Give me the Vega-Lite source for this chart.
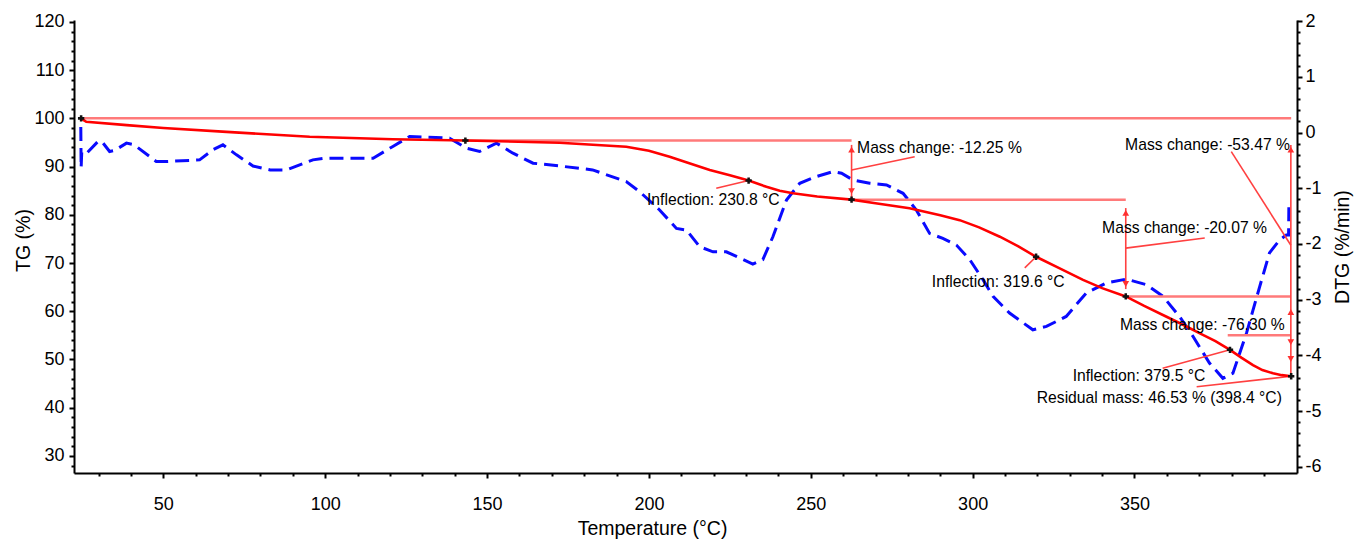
{
  "$schema": "https://vega.github.io/schema/vega-lite/v6.json",
  "width": 1223,
  "height": 453,
  "autosize": "none",
  "padding": {"left": 74, "top": 20, "right": 57, "bottom": 66},
  "background": "white",
  "config": {
    "view": {"stroke": null},
    "axis": {
      "grid": false,
      "domainColor": "black",
      "domainWidth": 2,
      "tickColor": "black",
      "tickWidth": 2,
      "labelFont": "Liberation Sans",
      "labelFontSize": 18,
      "labelColor": "black",
      "titleFont": "Liberation Sans",
      "titleFontSize": 19.5,
      "titleFontWeight": "normal",
      "titleColor": "black",
      "labelFlush": false,
      "labelOverlap": false
    }
  },
  "datasets": {
    "dtg": [
      {"t": 24.5, "dtg": 0.10}, {"t": 24.6, "dtg": -0.63}, {"t": 24.8, "dtg": -0.34}, {"t": 26.5, "dtg": -0.36},
      {"t": 29.8, "dtg": -0.16}, {"t": 31.0, "dtg": -0.16}, {"t": 33.4, "dtg": -0.34}, {"t": 35.0, "dtg": -0.32},
      {"t": 38.6, "dtg": -0.19}, {"t": 41.0, "dtg": -0.22}, {"t": 47.8, "dtg": -0.52}, {"t": 51.0, "dtg": -0.52},
      {"t": 61.2, "dtg": -0.49}, {"t": 65.3, "dtg": -0.31}, {"t": 68.4, "dtg": -0.22}, {"t": 72.6, "dtg": -0.40},
      {"t": 77.7, "dtg": -0.60}, {"t": 83.0, "dtg": -0.67}, {"t": 88.0, "dtg": -0.67}, {"t": 96.2, "dtg": -0.49},
      {"t": 100.0, "dtg": -0.46}, {"t": 114.8, "dtg": -0.46}, {"t": 120.9, "dtg": -0.25}, {"t": 126.1, "dtg": -0.07},
      {"t": 138.4, "dtg": -0.10}, {"t": 143.6, "dtg": -0.28}, {"t": 147.7, "dtg": -0.34}, {"t": 152.9, "dtg": -0.19},
      {"t": 158.0, "dtg": -0.37}, {"t": 164.2, "dtg": -0.55}, {"t": 172.4, "dtg": -0.60}, {"t": 182.6, "dtg": -0.67},
      {"t": 193.0, "dtg": -0.88}, {"t": 197.1, "dtg": -1.06}, {"t": 203.3, "dtg": -1.39}, {"t": 208.5, "dtg": -1.72},
      {"t": 211.6, "dtg": -1.75}, {"t": 215.7, "dtg": -2.05}, {"t": 219.8, "dtg": -2.14}, {"t": 223.9, "dtg": -2.14},
      {"t": 228.0, "dtg": -2.25}, {"t": 232.1, "dtg": -2.36}, {"t": 235.2, "dtg": -2.28}, {"t": 238.3, "dtg": -1.87},
      {"t": 242.5, "dtg": -1.21}, {"t": 246.6, "dtg": -0.91}, {"t": 251.7, "dtg": -0.79}, {"t": 256.9, "dtg": -0.70},
      {"t": 259.5, "dtg": -0.73}, {"t": 263.0, "dtg": -0.85}, {"t": 268.2, "dtg": -0.91}, {"t": 273.4, "dtg": -0.94},
      {"t": 278.5, "dtg": -1.09}, {"t": 282.6, "dtg": -1.39}, {"t": 286.7, "dtg": -1.81}, {"t": 290.8, "dtg": -1.90},
      {"t": 295.0, "dtg": -2.02}, {"t": 299.1, "dtg": -2.28}, {"t": 303.2, "dtg": -2.64}, {"t": 306.3, "dtg": -2.94},
      {"t": 311.4, "dtg": -3.24}, {"t": 318.6, "dtg": -3.54}, {"t": 322.8, "dtg": -3.48}, {"t": 328.9, "dtg": -3.30},
      {"t": 335.1, "dtg": -2.88}, {"t": 341.3, "dtg": -2.70}, {"t": 347.5, "dtg": -2.63}, {"t": 353.7, "dtg": -2.73},
      {"t": 358.8, "dtg": -2.94}, {"t": 363.9, "dtg": -3.30}, {"t": 368.1, "dtg": -3.66}, {"t": 373.2, "dtg": -4.14},
      {"t": 377.3, "dtg": -4.41}, {"t": 380.4, "dtg": -4.32}, {"t": 384.6, "dtg": -3.60}, {"t": 388.7, "dtg": -2.76},
      {"t": 391.7, "dtg": -2.16}, {"t": 394.8, "dtg": -1.93}, {"t": 396.9, "dtg": -1.84}, {"t": 397.6, "dtg": -1.84},
      {"t": 397.7, "dtg": -1.26}
    ],
    "tg": [
      {"t": 24.6, "tg": 100.0}, {"t": 25.5, "tg": 99.6}, {"t": 26.2, "tg": 99.3}, {"t": 38.7, "tg": 98.6},
      {"t": 50.0, "tg": 98.0}, {"t": 69.5, "tg": 97.2}, {"t": 95.2, "tg": 96.2}, {"t": 120.9, "tg": 95.66},
      {"t": 143.3, "tg": 95.4}, {"t": 172.4, "tg": 94.96}, {"t": 193.0, "tg": 94.1}, {"t": 200.0, "tg": 93.3},
      {"t": 206.4, "tg": 92.05}, {"t": 212.0, "tg": 90.8}, {"t": 218.8, "tg": 89.3}, {"t": 225.0, "tg": 88.2},
      {"t": 230.8, "tg": 87.1}, {"t": 236.3, "tg": 85.8}, {"t": 240.4, "tg": 85.0}, {"t": 244.5, "tg": 84.46},
      {"t": 252.0, "tg": 83.8}, {"t": 262.6, "tg": 83.15}, {"t": 270.0, "tg": 82.4}, {"t": 280.5, "tg": 81.35},
      {"t": 290.0, "tg": 79.9}, {"t": 296.0, "tg": 78.9}, {"t": 302.0, "tg": 77.4}, {"t": 308.4, "tg": 75.46},
      {"t": 314.0, "tg": 73.5}, {"t": 319.6, "tg": 71.3}, {"t": 326.9, "tg": 68.9}, {"t": 334.1, "tg": 66.5},
      {"t": 340.0, "tg": 64.8}, {"t": 347.3, "tg": 63.08}, {"t": 353.0, "tg": 61.1}, {"t": 359.9, "tg": 58.87},
      {"t": 365.0, "tg": 57.2}, {"t": 370.2, "tg": 55.4}, {"t": 375.0, "tg": 53.8}, {"t": 379.5, "tg": 52.0},
      {"t": 383.0, "tg": 50.4}, {"t": 386.6, "tg": 48.85}, {"t": 389.5, "tg": 47.8}, {"t": 392.8, "tg": 47.13},
      {"t": 395.5, "tg": 46.75}, {"t": 398.4, "tg": 46.53}
    ],
    "hlines": [
      {"t": 24.6, "t2": 398.4, "tg": 100.0, "tg2": 100.0},
      {"t": 143.3, "t2": 262.6, "tg": 95.4, "tg2": 95.4},
      {"t": 262.6, "t2": 347.3, "tg": 83.15, "tg2": 83.15},
      {"t": 347.3, "t2": 398.3, "tg": 63.08, "tg2": 63.08},
      {"t": 378.8, "t2": 398.3, "tg": 55.0, "tg2": 55.0}
    ],
    "segments": [
      {"t": 262.6, "t2": 262.6, "tg": 94.5, "tg2": 83.6},
      {"t": 347.3, "t2": 347.3, "tg": 81.4, "tg2": 64.6},
      {"t": 398.3, "t2": 398.3, "tg": 94.5, "tg2": 46.6},
      {"t": 262.6, "t2": 282.1, "tg": 89.3, "tg2": 92.05},
      {"t": 230.8, "t2": 220.8, "tg": 87.1, "tg2": 85.5},
      {"t": 319.6, "t2": 316.1, "tg": 71.3, "tg2": 69.0},
      {"t": 347.3, "t2": 371.7, "tg": 73.1, "tg2": 75.2},
      {"t": 379.9, "t2": 398.3, "tg": 93.1, "tg2": 73.7},
      {"t": 379.5, "t2": 358.7, "tg": 52.0, "tg2": 48.2},
      {"t": 398.4, "t2": 369.2, "tg": 46.53, "tg2": 44.35}
    ],
    "heads": [
      {"t": 262.6, "tg": 93.5, "dir": "up"},
      {"t": 262.6, "tg": 84.9, "dir": "down"},
      {"t": 347.3, "tg": 80.4, "dir": "up"},
      {"t": 347.3, "tg": 65.65, "dir": "down"},
      {"t": 398.3, "tg": 93.5, "dir": "up"},
      {"t": 398.3, "tg": 59.85, "dir": "up"},
      {"t": 398.3, "tg": 53.6, "dir": "down"},
      {"t": 398.3, "tg": 50.1, "dir": "down"}
    ],
    "markers": [
      {"t": 24.6, "tg": 100.0}, {"t": 143.3, "tg": 95.4}, {"t": 230.8, "tg": 87.1}, {"t": 262.6, "tg": 83.15},
      {"t": 319.6, "tg": 71.3}, {"t": 347.3, "tg": 63.08}, {"t": 379.5, "tg": 52.0}, {"t": 398.4, "tg": 46.53}
    ],
    "labels": [
      {"t": 264.3, "tg": 93.85, "text": "Mass change: -12.25 %"},
      {"t": 199.4, "tg": 83.07, "text": "Inflection: 230.8 °C"},
      {"t": 287.4, "tg": 66.07, "text": "Inflection: 319.6 °C"},
      {"t": 340.0, "tg": 77.3, "text": "Mass change: -20.07 %"},
      {"t": 347.1, "tg": 94.5, "text": "Mass change: -53.47 %"},
      {"t": 345.5, "tg": 57.15, "text": "Mass change: -76.30 %"},
      {"t": 330.9, "tg": 46.57, "text": "Inflection: 379.5 °C"},
      {"t": 319.8, "tg": 41.95, "text": "Residual mass: 46.53 % (398.4 °C)"}
    ]
  },
  "encoding": {
    "x": {
      "field": "t",
      "type": "quantitative",
      "scale": {"domain": [22.4, 400.2], "nice": false, "zero": false},
      "axis": {
        "title": "Temperature (°C)",
        "values": [30, 40, 50, 60, 70, 80, 90, 100, 110, 120, 130, 140, 150, 160, 170, 180, 190, 200, 210, 220, 230, 240, 250, 260, 270, 280, 290, 300, 310, 320, 330, 340, 350, 360, 370, 380, 390],
        "format": "d",
        "labelExpr": "datum.value % 50 === 0 ? datum.label : ''",
        "tickSize": {"condition": {"test": "datum.value % 50 === 0", "value": 5}, "value": 3},
        "labelPadding": 17,
        "titlePadding": 6,
        "titleX": 578
      }
    }
  },
  "layer": [
    {
      "data": {"name": "dtg"},
      "mark": {"type": "line", "color": "#0a0aff", "strokeWidth": 3, "strokeDash": [14, 7]},
      "encoding": {
        "y": {
          "field": "dtg",
          "type": "quantitative",
          "scale": {"domain": [-6.11, 2.02], "nice": false, "zero": false},
          "axis": {
            "orient": "right",
            "title": "DTG (%/min)",
            "titleAngle": 270,
            "titleBaseline": "top",
            "values": [-6, -5.8, -5.6, -5.4, -5.2, -5, -4.8, -4.6, -4.4, -4.2, -4, -3.8, -3.6, -3.4, -3.2, -3, -2.8, -2.6, -2.4, -2.2, -2, -1.8, -1.6, -1.4, -1.2, -1, -0.8, -0.6, -0.4, -0.2, 0, 0.2, 0.4, 0.6, 0.8, 1, 1.2, 1.4, 1.6, 1.8, 2],
            "labelExpr": "datum.value === round(datum.value) ? '' + datum.value : ''",
            "tickSize": {"condition": {"test": "datum.value === round(datum.value)", "value": 5}, "value": 3},
            "labelPadding": 3,
            "titlePadding": 12
          }
        }
      }
    },
    {
      "encoding": {
        "y": {
          "field": "tg",
          "type": "quantitative",
          "scale": {"domain": [26.46, 120.4], "nice": false, "zero": false},
          "axis": {
            "orient": "left",
            "title": "TG (%)",
            "values": [28, 30, 32, 34, 36, 38, 40, 42, 44, 46, 48, 50, 52, 54, 56, 58, 60, 62, 64, 66, 68, 70, 72, 74, 76, 78, 80, 82, 84, 86, 88, 90, 92, 94, 96, 98, 100, 102, 104, 106, 108, 110, 112, 114, 116, 118, 120],
            "format": "d",
            "labelExpr": "datum.value % 10 === 0 ? datum.label : ''",
            "tickSize": {"condition": {"test": "datum.value % 10 === 0", "value": 5}, "value": 3},
            "labelPadding": 5,
            "titlePadding": 0,
            "titleY": 220
          }
        }
      },
      "layer": [
        {
          "data": {"name": "hlines"},
          "mark": {"type": "rule", "color": "#ff7a7a", "strokeWidth": 2.5},
          "encoding": {"x2": {"field": "t2"}, "y2": {"field": "tg2"}}
        },
        {
          "data": {"name": "segments"},
          "mark": {"type": "rule", "color": "#ff4040", "strokeWidth": 1.6},
          "encoding": {"x2": {"field": "t2"}, "y2": {"field": "tg2"}}
        },
        {
          "data": {"name": "tg"},
          "mark": {"type": "line", "color": "#ff0000", "strokeWidth": 2.6}
        },
        {
          "data": {"name": "heads"},
          "mark": {"type": "point", "filled": true, "color": "#ff3030", "size": 45, "opacity": 1},
          "encoding": {
            "shape": {"field": "dir", "type": "nominal", "scale": {"domain": ["up", "down"], "range": ["triangle-up", "triangle-down"]}, "legend": null}
          }
        },
        {
          "data": {"name": "markers"},
          "mark": {"type": "point", "shape": "cross", "filled": true, "color": "#111111", "size": 40, "opacity": 1}
        },
        {
          "data": {"name": "labels"},
          "mark": {"type": "text", "align": "left", "baseline": "middle", "font": "Liberation Sans", "fontSize": 15.7, "color": "black"},
          "encoding": {"text": {"field": "text"}}
        }
      ]
    }
  ],
  "resolve": {"scale": {"y": "independent"}}
}
